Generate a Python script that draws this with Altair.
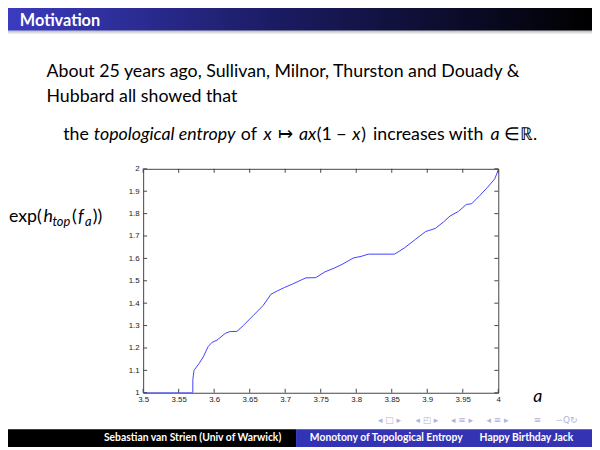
import altair as alt
import pandas as pd

# ---- data ----
a_vals = [3.5, 3.5699, 3.5700, 3.5716, 3.5786, 3.5846, 3.5915, 3.597, 3.604, 3.6155,
          3.622, 3.632, 3.641, 3.655, 3.669, 3.680, 3.689, 3.699, 3.710, 3.729,
          3.743, 3.756, 3.770, 3.780, 3.796, 3.807, 3.817, 3.854, 3.8675, 3.8838,
          3.8977, 3.9115, 3.923, 3.932, 3.944, 3.955, 3.9625, 3.974, 3.985, 3.995, 4.0]
h_vals = [1.0, 1.0, 1.06, 1.10, 1.13, 1.16, 1.206, 1.225, 1.235, 1.265,
          1.273, 1.274, 1.30, 1.345, 1.39, 1.44, 1.455, 1.47, 1.485, 1.513,
          1.514, 1.54, 1.558, 1.573, 1.602, 1.609, 1.619, 1.619, 1.646, 1.686,
          1.72, 1.734, 1.763, 1.789, 1.81, 1.841, 1.844, 1.881, 1.918, 1.955, 1.995]
x_ticks = [3.5, 3.55, 3.6, 3.65, 3.7, 3.75, 3.8, 3.85, 3.9, 3.95, 4.0]
y_ticks = [1.0, 1.1, 1.2, 1.3, 1.4, 1.5, 1.6, 1.7, 1.8, 1.9, 2.0]

W, H = 360, 227          # plot area
OX, OY = 145, 168        # slide coords of plot origin
FONT = "Lato"
TICK = 4

curve = pd.DataFrame({"a": a_vals, "h": h_vals})
xt = pd.DataFrame({"t": x_ticks})
yt = pd.DataFrame({"t": y_ticks})
dummy = pd.DataFrame({"k": [0]})

xs = alt.Scale(domain=[3.5, 4.0], nice=False, zero=False)
ys = alt.Scale(domain=[1.0, 2.0], nice=False, zero=False)
xaxis = alt.Axis(values=x_ticks, format="~g", ticks=False, domain=False,
                 grid=False, title=None, labelFont="Liberation Sans",
                 labelFontSize=8, labelColor="#222", labelPadding=3,
                 labelFlush=False, labelOverlap=False)
yaxis = alt.Axis(values=y_ticks, format="~g", ticks=False, domain=False,
                 grid=False, title=None, labelFont="Liberation Sans",
                 labelFontSize=8, labelColor="#222", labelPadding=4,
                 labelFlush=False, labelOverlap=False)


def txt(s, x, y, size=18, style="normal", weight="normal", color="black",
        align="left", baseline="alphabetic", font=FONT):
    return alt.Chart(dummy).mark_text(
        text=s, align=align, baseline=baseline, fontSize=size, fontStyle=style,
        fontWeight=weight, color=color, font=font
    ).encode(x=alt.value(x - OX), y=alt.value(y - OY))


def box(x1, x2, y1, y2, fill):
    return alt.Chart(dummy).mark_rect(color=fill).encode(
        x=alt.value(x1 - OX), x2=alt.value(x2 - OX),
        y=alt.value(y1 - OY), y2=alt.value(y2 - OY))


layers = []

# the curve (first, so it owns the axes)
layers.append(alt.Chart(curve).mark_line(color="#4040ff", strokeWidth=1, clip=True).encode(
    x=alt.X("a:Q", scale=xs, axis=xaxis),
    y=alt.Y("h:Q", scale=ys, axis=yaxis)))

# inward ticks (Matlab style) on all four sides
layers.append(alt.Chart(xt).mark_rule(color="#444", strokeWidth=1).encode(
    x=alt.X("t:Q", scale=xs, axis=xaxis), y=alt.value(H), y2=alt.value(H - TICK)))
layers.append(alt.Chart(xt).mark_rule(color="#444", strokeWidth=1).encode(
    x=alt.X("t:Q", scale=xs, axis=xaxis), y=alt.value(0), y2=alt.value(TICK)))
layers.append(alt.Chart(yt).mark_rule(color="#444", strokeWidth=1).encode(
    y=alt.Y("t:Q", scale=ys, axis=yaxis), x=alt.value(0), x2=alt.value(TICK)))
layers.append(alt.Chart(yt).mark_rule(color="#444", strokeWidth=1).encode(
    y=alt.Y("t:Q", scale=ys, axis=yaxis), x=alt.value(W), x2=alt.value(W - TICK)))

# header bar
header_grad = alt.LinearGradient(
    gradient="linear",
    stops=[alt.GradientStop(color="#3c3cc2", offset=0),
           alt.GradientStop(color="#1c1c66", offset=0.45),
           alt.GradientStop(color="#000000", offset=1)],
    x1=0, x2=1, y1=0, y2=0)
layers.append(box(0, 600, 0, 28, header_grad))
shadow_grad = alt.LinearGradient(
    gradient="linear",
    stops=[alt.GradientStop(color="#bdbdbd", offset=0),
           alt.GradientStop(color="#ffffff", offset=1)],
    x1=0, x2=0, y1=0, y2=1)
layers.append(box(0, 600, 28, 32, shadow_grad))
layers.append(txt("Motivation", 20, 18.5, size=16.5, weight="bold", color="white",
                  baseline="middle"))

# body text
layers.append(txt("About 25 years ago, Sullivan, Milnor, Thurston and Douady &", 47, 75))
layers.append(txt("Hubbard all showed that", 47, 100))
line3 = [("the", 64, "normal"), ("topological entropy", 95, "italic"),
         ("of", 244, "normal"), ("x", 267, "italic"), ("\u21a6", 282, "normal"),
         ("ax", 303, "italic"), ("(1 \u2212", 321, "normal"), ("x", 357, "italic"),
         (")", 366, "normal"), ("increases with", 378, "normal"),
         ("a", 497, "italic"), ("\u2208", 511, "normal"), ("\u211d.", 527, "normal")]
for s, x, st in line3:
    layers.append(txt(s, x, 138.5, style=st))

# y label exp(h_top(f_a))
ylab = [("exp(", 9, 222, 18, "normal"), ("h", 44, 222, 18, "italic"),
        ("top", 53, 226, 13, "italic"), ("(", 73, 222, 18, "normal"),
        ("f", 79, 222, 18, "italic"), ("a", 86, 226, 13, "italic"),
        ("))", 94, 222, 18, "normal")]
for s, x, y, sz, st in ylab:
    layers.append(txt(s, x, y, size=sz, style=st))

# x label
layers.append(txt("a", 545, 404, size=18, style="italic", align="center"))

# navigation symbols
nav = [("\u25c2 \u25a1 \u25b8", 383), ("\u25c2 \u25f0 \u25b8", 421),
       ("\u25c2 \u2261 \u25b8", 457), ("\u25c2 \u2261 \u25b8", 493),
       ("\u2261", 541), ("\u223d\u0051\u21bb", 563)]
for s, x in nav:
    layers.append(txt(s, x, 423, size=9, color="#b3b3d6", baseline="middle",
                      font="DejaVu Sans"))

# footer
layers.append(box(0, 300, 432, 450, "#000000"))
layers.append(box(300, 600, 432, 450, "#3333b3"))
layers.append(txt("Sebastian van Strien (Univ of Warwick)", 285, 441, size=10.5,
                  weight="bold", color="white", align="right", baseline="middle"))
layers.append(txt("Monotony of Topological Entropy", 314, 441, size=10.5,
                  weight="bold", color="white", baseline="middle"))
layers.append(txt("Happy Birthday Jack", 486, 441, size=10.5,
                  weight="bold", color="white", baseline="middle"))

chart = alt.layer(*layers).properties(
    width=W, height=H, autosize="none",
    padding={"left": OX - 8, "top": OY - 8, "right": 592 - (OX - 8) - W,
             "bottom": 442 - (OY - 8) - H},
).configure_view(stroke="#444", strokeWidth=1)

chart.save("out.html", embed_options={"renderer": "svg", "actions": False})
